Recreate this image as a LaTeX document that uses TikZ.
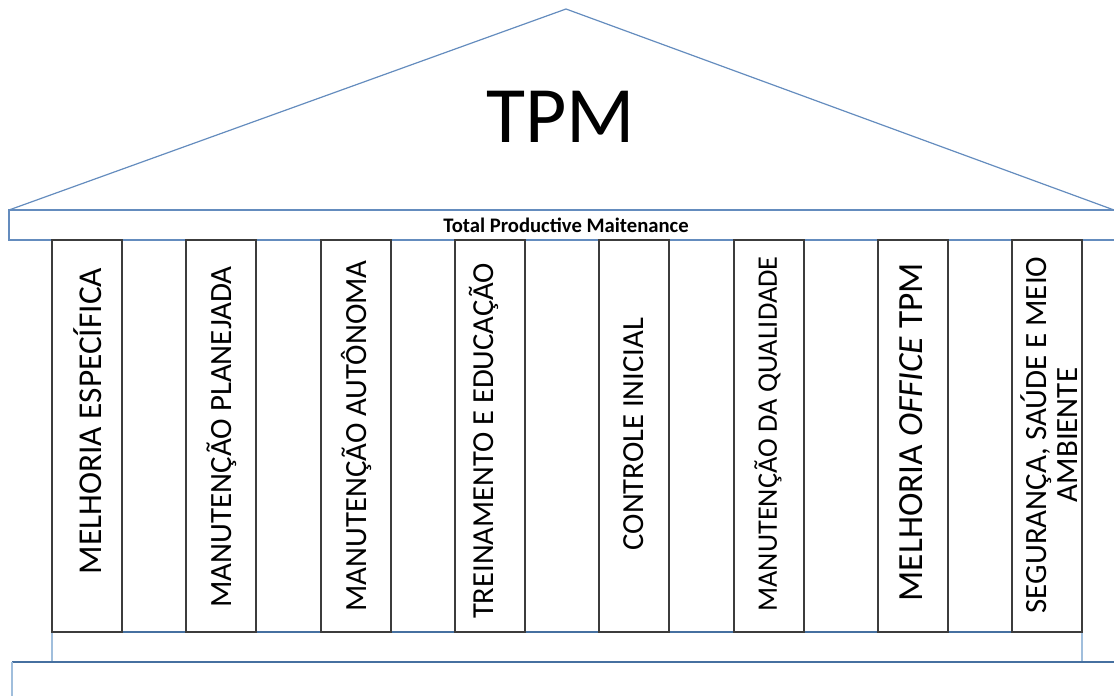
\documentclass[tikz,border=0pt]{standalone}
\usepackage{fontspec}
\setmainfont{Carlito}
\definecolor{roofblue}{RGB}{100,140,190}
\definecolor{darkblue}{RGB}{70,112,160}
\definecolor{lightblue}{RGB}{160,190,220}
\definecolor{pillargray}{RGB}{60,60,60}
\begin{document}
\begin{tikzpicture}[x=0.75pt,y=-0.75pt,
  roofline/.style={draw=roofblue,line width=0.9pt},
  pillarbox/.style={draw=pillargray,line width=0.8pt,fill=white},
  ptext/.style={rotate=90,anchor=center,align=center,inner sep=0pt}]
\useasboundingbox (0,0) rectangle (1114,696);
% roof
\coordinate (apex) at (566,9);
\coordinate (rl) at (9,210);
\coordinate (rr) at (1114,210);
\draw[roofline] (rl) -- (apex) -- (rr);
\node (tpm) at (561,117) {\fontsize{60pt}{64pt}\selectfont TPM};
% beam
\draw[roofline] (1114,210) -- (9,210) -- (9,240) -- (1114,240);
\node (beamtext) at (566,225) {\fontsize{15.5pt}{17pt}\selectfont\bfseries Total Productive Maitenance};
% platform
\draw[draw=lightblue,line width=0.8pt] (52,632) -- (52,662);
\draw[draw=lightblue,line width=0.8pt] (1082,632) -- (1082,662);
\draw[draw=darkblue,line width=0.8pt] (52,632) -- (1082,632);
% base
\draw[draw=darkblue,line width=0.8pt] (12,662) -- (1114,662);
\draw[draw=lightblue,line width=0.8pt] (12,662) -- (12,696);
% pillars
\foreach \x in {52,186,321,455,599,734,878,1012}{
  \draw[pillarbox] (\x,240) rectangle ++(70,392);
}
\node[ptext,font=\fontsize{25pt}{28pt}\selectfont] (t1) at (88,421) {MELHORIA ESPECÍFICA};
\node[ptext,font=\fontsize{23.2pt}{26pt}\selectfont] (t2) at (222,437) {MANUTENÇÃO PLANEJADA};
\node[ptext,font=\fontsize{23.1pt}{26pt}\selectfont] (t3) at (356,436) {MANUTENÇÃO AUTÔNOMA};
\node[ptext,font=\fontsize{22.9pt}{26pt}\selectfont] (t4) at (484,441) {TREINAMENTO E EDUCAÇÃO};
\node[ptext,font=\fontsize{23pt}{26pt}\selectfont] (t5) at (634,434) {CONTROLE INICIAL};
\node[ptext,font=\fontsize{21.2pt}{24pt}\selectfont] (t6) at (768,434) {MANUTENÇÃO DA QUALIDADE};
\node[ptext,font=\fontsize{26.5pt}{30pt}\selectfont] (t7) at (911,432) {MELHORIA \textit{OFFICE} TPM};
\node[ptext,font=\fontsize{23.2pt}{23pt}\selectfont] (t8) at (1049,435) {SEGURANÇA, SAÚDE E MEIO\\AMBIENTE};
\end{tikzpicture}
\end{document}
